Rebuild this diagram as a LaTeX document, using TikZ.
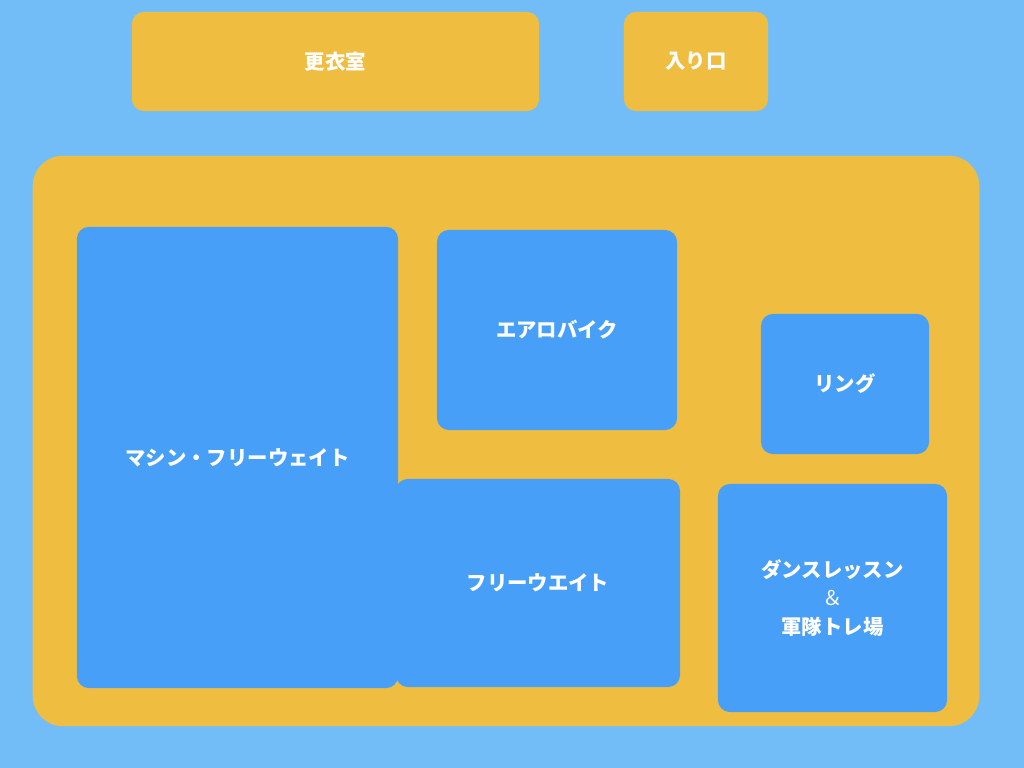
\documentclass[tikz,border=0pt]{standalone}
\usepackage{fontspec}
\newfontfamily\jp{Noto Sans CJK JP}
\definecolor{sky}{HTML}{72BDF8}
\definecolor{sand}{HTML}{EFBD40}
\definecolor{pool}{HTML}{489FF7}
\begin{document}
\begin{tikzpicture}
  [x=0.01cm,y=-0.01cm,
   area/.style={inner sep=0pt,rounded corners=0.12cm,text=white,
     font=\jp\fontsize{5.8}{8}\selectfont\bfseries,align=center},
   outer/.style={area,fill=sand},
   room/.style={area,fill=pool}]
  \fill[sky] (0,0) rectangle (1024,768);
  \useasboundingbox (0,0) rectangle (1024,768);

  \node[outer,minimum width=4.07cm,minimum height=0.99cm] (locker) at (335.5,61.5) {更衣室};
  \node[outer,minimum width=1.44cm,minimum height=0.99cm] (gate) at (696,61.5) {入り口};
  \node[outer,rounded corners=0.3cm,minimum width=9.46cm,minimum height=5.70cm] (hall) at (506,441) {};

  \node[room,minimum width=3.21cm,minimum height=4.61cm] (machine) at (237.5,457.5) {マシン・フリーウェイト};
  \node[room,minimum width=2.40cm,minimum height=2.00cm] (aero) at (557,330) {エアロバイク};
  \node[room,minimum width=1.68cm,minimum height=1.40cm] (ring) at (845,384) {リング};
  \node[room,minimum width=2.84cm,minimum height=2.08cm] (free) at (538,583) {フリーウエイト};
  \node[room,minimum width=2.29cm,minimum height=2.28cm] (dance) at (832.5,598)
    {ダンスレッスン\\{\mdseries ＆}\\軍隊トレ場};
\end{tikzpicture}
\end{document}
